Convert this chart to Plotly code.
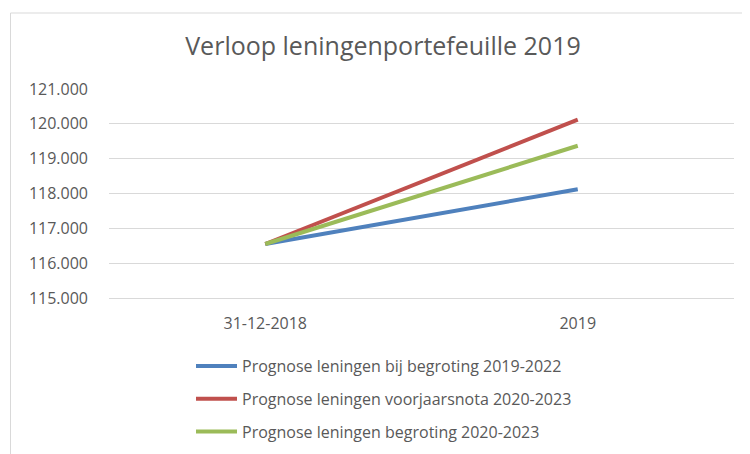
import plotly.graph_objects as go

categories = ["31-12-2018", "2019"]
series_names = [
    "Prognose leningen bij begroting 2019-2022",
    "Prognose leningen voorjaarsnota 2020-2023",
    "Prognose leningen begroting 2020-2023",
]
blue_values = [116550, 118120]
red_values = [116550, 120120]
green_values = [116550, 119370]
y_ticks = [115000, 116000, 117000, 118000, 119000, 120000, 121000]

colors = ["#4F81BD", "#C0504D", "#9BBB59"]
FONT = "Open Sans"

fig = go.Figure()
for i, (name, vals) in enumerate(zip(series_names, [blue_values, red_values, green_values])):
    fig.add_trace(go.Scatter(
        x=categories, y=vals, mode="lines", name=name,
        line=dict(color=colors[i], width=4),
        legendgroup=f"g{i}",
    ))

# page has an 8px body margin, so figure coords = page coords - 8
OFF = 8
W, H = 750 - OFF, 454 - OFF
L, R, T, B = 109 - OFF, 16, 89 - OFF, 156
pw, ph = W - L - R, H - T - B

def px_x(x):
    return (x - OFF - L) / pw

def px_y(y):
    return (H - B - (y - OFF)) / ph

fig.update_layout(
    width=W, height=H,
    margin=dict(l=L, r=R, t=T, b=B, autoexpand=False),
    paper_bgcolor="white", plot_bgcolor="white",
    separators=",.",
    title=dict(text="Verloop leningenportefeuille 2019", x=px_x(383), xref="paper",
               xanchor="center", y=1 - (46 - OFF) / H, yanchor="middle",
               font=dict(family=FONT, size=25, color="#595959")),
    font=dict(family=FONT, color="#595959"),
    showlegend=True,
    legend=dict(x=px_x(191), y=px_y(349), xanchor="left", yanchor="top",
                orientation="v", tracegroupgap=9, itemwidth=41,
                font=dict(family=FONT, size=16, color="#595959"),
                bgcolor="rgba(0,0,0,0)"),
    xaxis=dict(type="category", range=[-0.5, 1.5], showgrid=False, showline=True,
               linecolor="#d9d9d9", linewidth=1, ticks="",
               tickfont=dict(size=16, color="#595959"),
               ticklabelstandoff=11, zeroline=False),
    yaxis=dict(range=[115000, 121000], tickvals=y_ticks, tickformat=",d",
               showgrid=True, gridcolor="#d9d9d9", gridwidth=1, showline=False,
               zeroline=False, ticks="", tickfont=dict(size=16, color="#595959"),
               ticklabelstandoff=20),
    shapes=[
        dict(type="line", xref="paper", yref="paper",
             x0=px_x(10.5), x1=px_x(10.5), y0=px_y(13), y1=px_y(470),
             line=dict(color="#d9d9d9", width=1)),
        dict(type="line", xref="paper", yref="paper",
             x0=px_x(10.5), x1=px_x(770), y0=px_y(13), y1=px_y(13),
             line=dict(color="#d9d9d9", width=1)),
    ],
)

fig.write_html("out.html")
